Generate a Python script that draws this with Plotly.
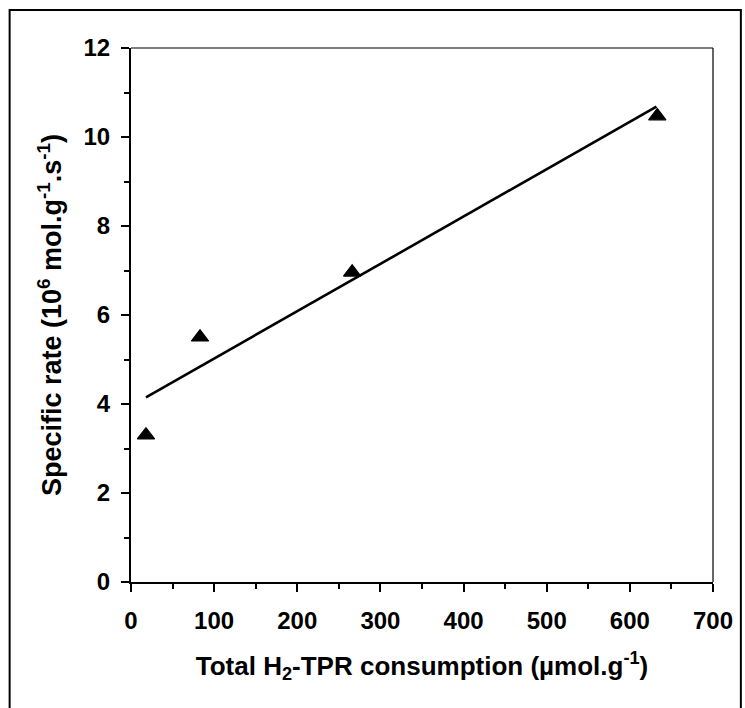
import plotly.graph_objects as go

# Data
h2_consumption = [18, 83, 266, 633]          # Total H2-TPR consumption (µmol/g)
specific_rate = [3.3, 5.5, 6.96, 10.47]       # Specific rate
fit_x = [18, 632]                             # fitted trend line end points
fit_y = [4.15, 10.68]

x_ticks = [0, 100, 200, 300, 400, 500, 600, 700]
y_ticks = [0, 2, 4, 6, 8, 10, 12]

W, H = 745, 708
L, R, T, B = 131, 29, 48, 126
pw, ph = W - L - R, H - T - B

def px2paper_x(px):
    return (px - L) / pw

def px2paper_y(py):
    return (H - B - py) / ph

FONT = "Liberation Sans, Arial, sans-serif"

fig = go.Figure()
fig.add_trace(go.Scatter(
    x=fit_x, y=fit_y, mode="lines",
    line=dict(color="black", width=2.6),
    showlegend=False, hoverinfo="skip"))
fig.add_trace(go.Scatter(
    x=h2_consumption, y=specific_rate, mode="markers",
    marker=dict(symbol="triangle-up", size=15, color="black",
                line=dict(color="black", width=1.2)),
    showlegend=False))

axis_common = dict(
    showline=True, linewidth=2, linecolor="black",
    ticks="outside", ticklen=8, tickwidth=2, tickcolor="black",
    showgrid=False, zeroline=False, mirror=False,
    tickfont=dict(family=FONT, size=24, color="black", weight="bold"),
)

fig.update_xaxes(
    range=[0, 700], tickvals=x_ticks, ticktext=[str(v) for v in x_ticks],
    minor=dict(dtick=50, ticks="outside", ticklen=5, tickwidth=2, tickcolor="black"),
    ticklabelstandoff=8,
    title=dict(text="Total H<sub>2</sub>-TPR consumption (µmol.g<sup>-1</sup>)",
               font=dict(family=FONT, size=26, color="black", weight="bold"),
               standoff=24),
    **axis_common)
fig.update_yaxes(
    range=[0, 12], tickvals=y_ticks, ticktext=[str(v) for v in y_ticks],
    minor=dict(dtick=1, ticks="outside", ticklen=5, tickwidth=2, tickcolor="black"),
    ticklabelstandoff=6,
    title=dict(text="Specific rate (10<sup>6</sup> mol.g<sup>-1</sup>.s<sup>-1</sup>)",
               font=dict(family=FONT, size=27, color="black", weight="bold"),
               standoff=14),
    **axis_common)

shapes = [
    # top and right frame of plot area (thin)
    dict(type="line", xref="paper", yref="paper", x0=0, x1=1, y0=1, y1=1,
         line=dict(color="black", width=1.2)),
    dict(type="line", xref="paper", yref="paper", x0=1, x1=1, y0=0, y1=1,
         line=dict(color="black", width=1.2)),
    # outer border
    dict(type="rect", xref="paper", yref="paper",
         x0=px2paper_x(9), x1=px2paper_x(744), y0=px2paper_y(720), y1=px2paper_y(10),
         line=dict(color="black", width=2), fillcolor="rgba(0,0,0,0)", layer="below"),
]

fig.update_layout(
    width=W, height=H,
    margin=dict(l=L, r=R, t=T, b=B),
    paper_bgcolor="white", plot_bgcolor="white",
    shapes=shapes,
    font=dict(family=FONT, color="black"),
)

fig.write_html("out.html")
